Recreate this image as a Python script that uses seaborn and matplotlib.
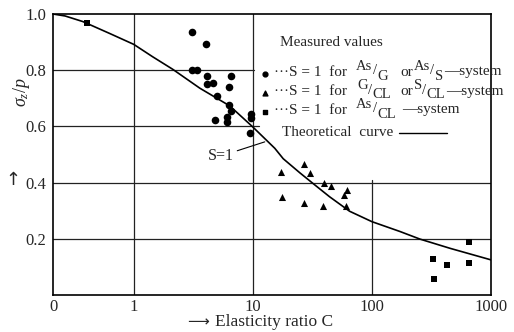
import matplotlib
matplotlib.use("Agg")
import matplotlib.pyplot as plt
import seaborn as sns
import pandas as pd

# ---- data ----
circ_C = [3.07, 4.03, 3.07, 3.38, 4.11, 6.53, 4.11, 4.61, 6.29, 4.98, 6.29, 6.53, 4.79, 6.05, 6.05, 9.62, 9.62, 9.44]
circ_y = [0.936, 0.893, 0.80, 0.80, 0.779, 0.779, 0.751, 0.754, 0.740, 0.708, 0.676, 0.655, 0.623, 0.633, 0.616, 0.644, 0.630, 0.577]

tri_C = [17.4, 26.8, 30.1, 39.5, 45.2, 62.0, 58.2, 17.6, 26.8, 38.5, 60.5]
tri_y = [0.439, 0.466, 0.435, 0.400, 0.388, 0.374, 0.356, 0.350, 0.329, 0.317, 0.317]

sq_C = [0.42, 653, 327, 424, 653, 334]
sq_y = [0.969, 0.187, 0.127, 0.107, 0.115, 0.057]

curve_C = [0, 0.15, 0.37, 0.70, 1.0, 1.44, 2.13, 3.59, 6.4, 10, 15.3, 18, 24.8, 32, 44, 65, 100, 172, 253, 454, 1000]
curve_y = [1.0, 0.993, 0.973, 0.931, 0.892, 0.848, 0.803, 0.736, 0.673, 0.598, 0.522, 0.485, 0.435, 0.397,
           0.350, 0.298, 0.261, 0.226, 0.199, 0.166, 0.125]

x_ticks = [0, 1, 10, 100, 1000]
x_ticklabels = ["0", "1", "10", "100", "1000"]
y_ticks = [0.2, 0.4, 0.6, 0.8, 1.0]
y_ticklabels = ["0.2", "0.4", "0.6", "0.8", "1.0"]

legend_title = "Measured values"
curve_label = "Theoretical  curve"
# legend rows: groups ("t", text, x) plain text or ("f", numerator, denominator, x) slanted fraction
legend_rows = [
    [("t", "···S = 1  for", 274), ("f", "As", "G", 356), ("t", "or", 400), ("f", "As", "S", 413),
     ("t", "—system", 444)],
    [("t", "···S = 1  for", 274), ("f", "G", "CL", 357), ("t", "or", 400), ("f", "S", "CL", 413),
     ("t", "—system", 441)],
    [("t", "···S = 1  for", 274), ("f", "As", "CL", 356), ("t", "—system", 402)],
]

# ---- style ----
sns.set_theme(style="white")
plt.rcParams["font.family"] = ["Liberation Serif", "DejaVu Sans"]
plt.rcParams["mathtext.fontset"] = "custom"
plt.rcParams["mathtext.rm"] = "Liberation Serif"
plt.rcParams["mathtext.it"] = "Liberation Serif:italic"
plt.rcParams["mathtext.bf"] = "Liberation Serif:bold"

W, H = 514, 332
fig = plt.figure(figsize=(W / 100, H / 100), dpi=100)
L, R, T, B = 53, 491, 14, 295
ax = fig.add_axes([L / W, 1 - B / H, (R - L) / W, (B - T) / H])

def axfrac(px, py):
    return ((px - L) / (R - L), (B - py) / (B - T))

def figfrac(px, py):
    return (px / W, 1 - py / H)

ax.set_xscale("symlog", linthresh=1, linscale=0.61)
ax.set_xlim(0, 1000)
ax.set_ylim(0, 1.0)

# grid lines (partially hidden behind legend area in the original)
gkw = dict(color="#222222", lw=0.9, zorder=1)
ax.axvline(1, **gkw)
ax.axvline(10, **gkw)
ax.axvline(100, ymin=0, ymax=0.41, **gkw)
ax.axhline(0.2, **gkw)
ax.axhline(0.4, **gkw)
ax.axhline(0.6, xmin=0, xmax=0.47, **gkw)
ax.axhline(0.8, xmin=0, xmax=0.46, **gkw)

# theoretical curve
dfc = pd.DataFrame({"C": curve_C, "y": curve_y})
sns.lineplot(data=dfc, x="C", y="y", sort=False, estimator=None, color="black", lw=1.2, ax=ax, zorder=3)

# measured values
sns.scatterplot(x=circ_C, y=circ_y, marker="o", s=30, color="black", edgecolor="black", linewidth=0, ax=ax, zorder=4)
sns.scatterplot(x=tri_C, y=tri_y, marker="^", s=26, color="black", edgecolor="black", linewidth=0, ax=ax, zorder=4)
sns.scatterplot(x=sq_C, y=sq_y, marker="s", s=22, color="black", edgecolor="black", linewidth=0, ax=ax, zorder=4)

ax.set_xticks(x_ticks)
ax.set_xticklabels(x_ticklabels)
ax.xaxis.set_minor_locator(matplotlib.ticker.NullLocator())
ax.set_yticks(y_ticks)
ax.set_yticklabels(y_ticklabels)
ax.tick_params(axis="both", labelsize=12, length=3, width=0.9, color="black", direction="out", pad=2)
ax.tick_params(axis="x", length=0, pad=3)
for s in ax.spines.values():
    s.set_color("black")
    s.set_linewidth(1.2)
ax.set_xlabel("")
ax.set_ylabel("")

# axis labels
fig.text(*figfrac(21, 92), r"$\sigma_z/p$", rotation=90, ha="center", va="center", fontsize=13)
fig.text(*figfrac(13, 180), "↑", ha="center", va="center", fontsize=13, family=["DejaVu Sans"])
fig.text(*figfrac(187, 322), "⟶", ha="left", va="center", fontsize=11, family=["DejaVu Sans"])
fig.text(*figfrac(215, 322), "Elasticity ratio C", ha="left", va="center", fontsize=12.5)

# legend block
renderer = fig.canvas.get_renderer()

def put(txt, px, py, size):
    t = fig.text(*figfrac(px, py), txt, ha="left", va="center", fontsize=size)
    return px + t.get_window_extent(renderer).width

fig.text(*figfrac(280, 43), legend_title, ha="left", va="center", fontsize=11)
row_y = [72, 91, 110]
for groups, yy in zip(legend_rows, row_y):
    end = 0
    for g in groups:
        if g[0] == "t":
            end = put(g[1], max(g[2], end + 1), yy, 11)
        else:
            x1 = put(g[1], max(g[3], end + 1), yy - 6, 10.5)
            x2 = put("/", x1 + 0.3, yy - 1, 10.5)
            end = put(g[2], x2 + 0.3, yy + 4, 10.5)
mk = ["o", "^", "s"]
for m, yy in zip(mk, row_y):
    ax.scatter(*axfrac(265, yy + 2), marker=m, s=12, color="black", transform=ax.transAxes,
               clip_on=False, zorder=5)
fig.text(*figfrac(282, 132), curve_label, ha="left", va="center", fontsize=11)
ax.plot([axfrac(399, 0)[0], axfrac(447, 0)[0]], [axfrac(0, 133)[1]] * 2, color="black", lw=1.0,
        transform=ax.transAxes, clip_on=False)

# S=1 annotation
ax.annotate("S=1", xy=(12.6, 0.545), xytext=(208, H - 156), textcoords="figure pixels",
            fontsize=11.5, ha="left", va="center",
            arrowprops=dict(arrowstyle="-", color="black", lw=0.8, shrinkA=0, shrinkB=0))

fig.savefig("out.png", dpi=100)
